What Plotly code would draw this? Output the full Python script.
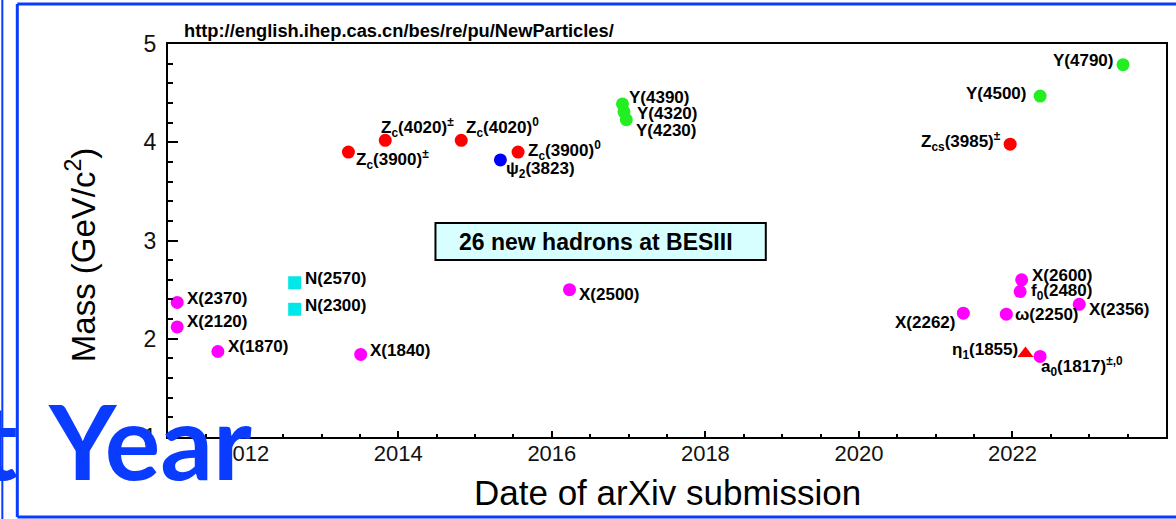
import plotly.graph_objects as go

# ---------------- data ----------------
names = ["X(2370)", "X(2120)", "X(1870)", "N(2570)", "N(2300)", "X(1840)",
         "Z<sub>c</sub>(3900)<sup>±</sup>", "Z<sub>c</sub>(4020)<sup>±</sup>",
         "Z<sub>c</sub>(4020)<sup>0</sup>", "Z<sub>c</sub>(3900)<sup>0</sup>",
         "ψ<sub>2</sub>(3823)", "Y(4390)", "Y(4320)", "Y(4230)", "X(2500)",
         "Y(4790)", "Y(4500)", "Z<sub>cs</sub>(3985)<sup>±</sup>",
         "X(2600)", "f<sub>0</sub>(2480)", "X(2356)", "X(2262)", "ω(2250)",
         "η<sub>1</sub>(1855)", "a<sub>0</sub>(1817)<sup>±,0</sup>"]
dates = [2011.12, 2011.12, 2011.65, 2012.65, 2012.65, 2013.51,
         2013.35, 2013.83, 2014.82, 2015.56,
         2015.33, 2016.92, 2016.94, 2016.97, 2016.23,
         2023.44, 2022.36, 2021.97,
         2022.12, 2022.10, 2022.87, 2021.36, 2021.92,
         2022.17, 2022.36]
masses = [2.37, 2.12, 1.87, 2.57, 2.30, 1.84,
          3.90, 4.02, 4.02, 3.90,
          3.82, 4.39, 4.31, 4.23, 2.50,
          4.79, 4.47, 3.98,
          2.60, 2.48, 2.35, 2.26, 2.25,
          1.85, 1.82]
kinds = ["light", "light", "light", "baryon", "baryon", "light",
         "zc", "zc", "zc", "zc",
         "charm", "vector", "vector", "vector", "light",
         "vector", "vector", "zc",
         "light", "light", "light", "light", "light",
         "hybrid", "light"]

x_ticks = [2012, 2014, 2016, 2018, 2020, 2022]
y_ticks = [1, 2, 3, 4, 5]

# ---------------- styles ----------------
kind_style = {
    "light":  dict(color="#FF00FF", symbol="circle", size=13),
    "baryon": dict(color="#00E8E8", symbol="square", size=13),
    "zc":     dict(color="#FF0000", symbol="circle", size=13),
    "charm":  dict(color="#0000FF", symbol="circle", size=13),
    "vector": dict(color="#22EE22", symbol="circle", size=13),
    "hybrid": dict(color="#FF0000", symbol="triangle-up", size=14),
}
# label placement: (xanchor, xshift px, yshift px)
label_pos = [("left", 8, 4), ("left", 8, 5), ("left", 8, 5), ("left", 8, 4), ("left", 8, 4), ("left", 7, 4),
             ("left", 6, -7), ("left", -6, 13), ("left", 3, 13), ("left", 8, 2),
             ("left", 4, -10), ("left", 5, 6), ("left", 11, -2), ("left", 8, -11), ("left", 7, -5),
             ("right", -8, 4), ("right", -12, 3), ("right", -7, 3),
             ("left", 8, 4), ("left", 9, 0), ("left", 8, -5), ("right", -6, -9), ("left", 7, 0),
             ("right", -6, 2), ("left", -1, -10)]

FONT = "Arial, Liberation Sans, Helvetica, sans-serif"
BLUE = "#0A3CFF"
W, H = 1176, 519
L, R, T, B = 168, 1168, 44, 437


def px(x):
    return (x - L) / (R - L)


def py(y):
    return (B - y) / (B - T)


fig = go.Figure()
for k, st in kind_style.items():
    idx = [i for i, kk in enumerate(kinds) if kk == k]
    fig.add_trace(go.Scatter(
        x=[dates[i] for i in idx], y=[masses[i] for i in idx],
        mode="markers", showlegend=False, hoverinfo="skip",
        marker=dict(color=st["color"], symbol=st["symbol"], size=st["size"],
                    line=dict(width=0)),
    ))

annotations = []
for i, n in enumerate(names):
    xa, xs, ys = label_pos[i]
    annotations.append(dict(
        x=dates[i], y=masses[i], xref="x", yref="y", text="<b>%s</b>" % n,
        showarrow=False, xanchor=xa, yanchor="middle", xshift=xs, yshift=ys,
        font=dict(family=FONT, size=17, color="black"),
    ))

# url
annotations.append(dict(x=px(182), y=py(31), xref="paper", yref="paper",
                        text="<b>http://english.ihep.cas.cn/bes/re/pu/NewParticles/</b>",
                        showarrow=False, xanchor="left", yanchor="middle",
                        font=dict(family=FONT, size=18.3, color="black")))
# box text
annotations.append(dict(x=px(597), y=py(242), xref="paper", yref="paper",
                        text="<b>26 new hadrons at BESIII</b>",
                        showarrow=False, xanchor="center", yanchor="middle",
                        font=dict(family=FONT, size=23, color="black")))
# axis titles
annotations.append(dict(x=px(668), y=py(492), xref="paper", yref="paper",
                        text="Date of arXiv submission", showarrow=False,
                        xanchor="center", yanchor="middle",
                        font=dict(family=FONT, size=35, color="black")))
annotations.append(dict(x=px(81), y=py(255), xref="paper", yref="paper",
                        text="Mass (GeV/c<sup>2</sup>)", showarrow=False,
                        textangle=-90, xanchor="center", yanchor="middle",
                        font=dict(family=FONT, size=33, color="black")))
# overlay slide text
annotations.append(dict(x=px(46), y=py(440), xref="paper", yref="paper",
                        text="<b>Year</b>", showarrow=False,
                        xanchor="left", yanchor="middle",
                        font=dict(family="Lato, sans-serif", size=104, color=BLUE)))
annotations.append(dict(x=px(20), y=py(440), xref="paper", yref="paper",
                        text="<b>t</b>", showarrow=False,
                        xanchor="right", yanchor="middle",
                        font=dict(family="Lato, sans-serif", size=104, color=BLUE)))

shapes = [
    dict(type="rect", xref="paper", yref="paper", x0=px(436), x1=px(767), y0=py(260), y1=py(223),
         fillcolor="#D8FFFF", line=dict(color="black", width=2), layer="above"),
    dict(type="line", xref="paper", yref="paper", x0=px(17), x1=px(1190), y0=py(4), y1=py(4),
         line=dict(color=BLUE, width=3)),
    dict(type="line", xref="paper", yref="paper", x0=px(17), x1=px(17), y0=py(4), y1=py(517),
         line=dict(color=BLUE, width=3)),
    dict(type="line", xref="paper", yref="paper", x0=px(17), x1=px(1190), y0=py(517), y1=py(517),
         line=dict(color=BLUE, width=3)),
    dict(type="line", xref="paper", yref="paper", x0=px(2), x1=px(2), y0=py(-5), y1=py(525),
         line=dict(color=BLUE, width=2)),
]

fig.update_layout(
    width=W, height=H,
    margin=dict(l=L, r=W - R, t=T, b=H - B, pad=0),
    paper_bgcolor="white", plot_bgcolor="white",
    annotations=annotations, shapes=shapes,
    xaxis=dict(range=[2011, 2024], tickvals=x_ticks, ticktext=[str(v) for v in x_ticks],
               ticks="inside", ticklen=6, tickwidth=2, tickcolor="black",
               showline=True, linecolor="black", linewidth=2, mirror=True,
               showgrid=False, zeroline=False,
               ticklabelstandoff=-4,
               tickfont=dict(family=FONT, size=22, color="#111"),
               minor=dict(dtick=0.5, tick0=2011, ticks="inside", ticklen=3, tickwidth=2,
                          tickcolor="black", showgrid=False)),
    yaxis=dict(range=[1, 5], tickvals=y_ticks, ticktext=[str(v) for v in y_ticks],
               ticks="inside", ticklen=10, tickwidth=2, tickcolor="black",
               showline=True, linecolor="black", linewidth=2, mirror=True,
               showgrid=False, zeroline=False,
               ticklabelstandoff=5,
               tickfont=dict(family=FONT, size=23, color="#111"),
               minor=dict(dtick=0.2, tick0=1, ticks="inside", ticklen=5, tickwidth=2,
                          tickcolor="black", showgrid=False)),
)

fig.write_html("out.html", config={"displayModeBar": False},
               post_script="document.body.style.margin='0px';document.body.style.overflow='hidden';")
